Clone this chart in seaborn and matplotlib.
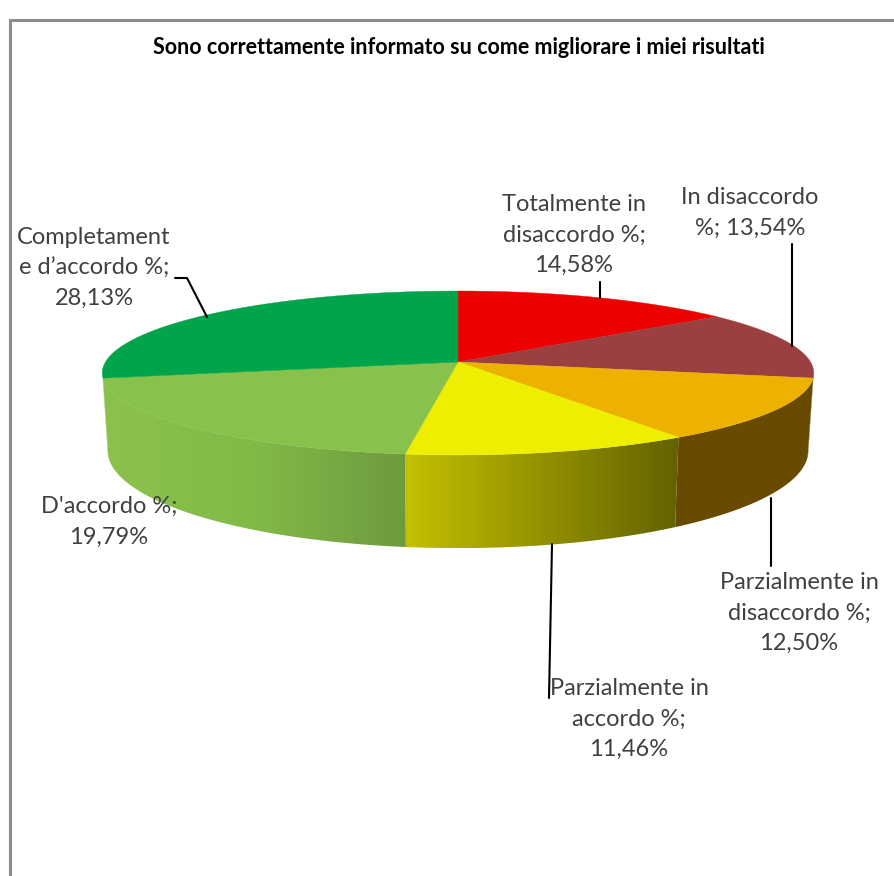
import numpy as np
import matplotlib.pyplot as plt
from matplotlib.patches import Polygon
import seaborn as sns

# 3D looking pie, drawn by hand since matplotlib has no perspective pie

title = "Sono correttamente informato su come migliorare i miei risultati"
categories = [
    "Totalmente in\ndisaccordo %;",
    "In disaccordo\n%;",
    "Parzialmente in\ndisaccordo %;",
    "Parzialmente in\naccordo %;",
    "D'accordo %;",
    "Completament\ne d’accordo %;",
]
values = [14.58, 13.54, 12.50, 11.46, 19.79, 28.13]

top_colors = ["#ee0000", "#9b4040", "#edb200", "#eeee00", "#88c14c", "#00a44a"]
# colour stops of the side wall of each slice, left to right
wall_colors = [
    ["#684a00", "#684a00"],
    ["#684a00", "#684a00"],
    ["#684a00", "#684a00"],
    ["#c4c000", "#626200"],
    ["#8ac24c", "#82ba48", "#6e9a3e"],
    ["#8ac24c", "#8ac24c"],
]

# where the labels go (pixels of the picture)
label_xy = [(574, 235), (750, 213), (799, 613), (629, 719), (109, 522), (94, 268)]
leaders = [
    [(600, 282), (600, 298)],
    [(792, 244), (792, 346)],
    [(771, 498), (771, 566)],
    [(552, 544), (549, 698)],
    [(175, 278), (187, 278), (207, 317)],
]

cx, cy = 458, 362
rx, ry = 352.5, 80.5
persp = 0.134
drop, grow_y, shrink_x = 75.5, 1.19, 0.985


def top_edge(theta):
    u, v = np.sin(theta), -np.cos(theta)
    s = 1 / (1 - persp * v)
    return cx + rx * u * s, cy + ry * v * s


def bottom_edge(theta):
    u, v = np.sin(theta), -np.cos(theta)
    s = 1 / (1 - persp * v)
    return cx + shrink_x * rx * u * s, cy + drop + grow_y * ry * v * s


sns.set_theme(style="white")
plt.rcParams["font.family"] = ["Lato", "DejaVu Sans"]

fig = plt.figure(figsize=(8.95, 8.76), dpi=100)
ax = fig.add_axes([0, 0, 1, 1])

# frame of the chart area, the right and bottom sides are cut off
ax.plot([10, 10, 895], [876, 20, 20], color="#8c8c8c", lw=2.2, solid_joinstyle="miter")

edges = np.radians(np.cumsum([0] + values) * 3.6)
wall_start = np.arccos(-persp)
wall_end = 2 * np.pi - wall_start

# side walls first, a horizontal gradient clipped to the shape of the wall
for i in range(len(values)):
    a0 = max(edges[i], wall_start)
    a1 = min(edges[i + 1], wall_end)
    if a1 <= a0:
        continue
    thetas = np.linspace(a0, a1, 120)
    tx, ty = top_edge(thetas)
    bx, by = bottom_edge(thetas)
    outline = np.c_[np.r_[tx, bx[::-1]], np.r_[ty, by[::-1]]]
    shades = np.array(sns.blend_palette(wall_colors[i], 256))[np.newaxis, :, :]
    left, right = outline[:, 0].min(), outline[:, 0].max()
    img = ax.imshow(shades, extent=(left, right, outline[:, 1].max(), outline[:, 1].min()),
                    aspect="auto", interpolation="bilinear")
    shape = Polygon(outline, closed=True, transform=ax.transData, fc="none", ec="none")
    ax.add_patch(shape)
    img.set_clip_path(shape)

# top face
for i in range(len(values)):
    thetas = np.linspace(edges[i], edges[i + 1], 120)
    xs, ys = top_edge(thetas)
    ax.fill(np.r_[cx, xs], np.r_[cy, ys], color=top_colors[i], lw=0.3)

for line in leaders:
    xs, ys = zip(*line)
    ax.plot(xs, ys, color="black", lw=1.5)

for i in range(len(values)):
    sep = " " if categories[i].endswith("\n%;") else "\n"
    label = categories[i] + sep + f"{values[i]:.2f}%".replace(".", ",")
    ax.text(label_xy[i][0], label_xy[i][1], label, ha="center", va="center",
            fontsize=17, color="#404040", linespacing=1.55)

ax.text(459, 48, title, ha="center", va="center", fontsize=15.5, fontweight="bold", color="black")

ax.set_xlim(0, 895)
ax.set_ylim(876, 0)
ax.axis("off")

fig.savefig("out.png", dpi=100)
